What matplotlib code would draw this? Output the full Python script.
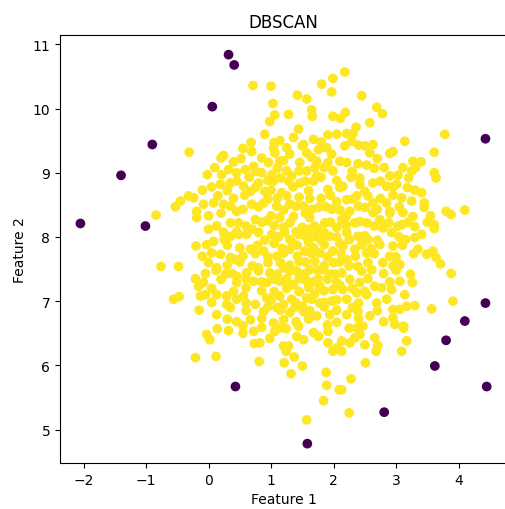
import matplotlib

matplotlib.use("Agg")
import matplotlib.pyplot as plt
import numpy as np

# Points assigned to the single cluster (label 0)
core_points = [
    (-0.31, 9.32),
    (0.71, 10.36), (1.00, 10.35), (1.81, 10.38), (1.99, 10.47), (1.97, 10.26),
    (1.42, 10.21), (1.57, 10.15), (1.03, 10.08), (1.06, 9.90), (1.28, 9.91),
    (1.65, 9.98), (1.66, 9.88), (0.98, 9.80), (1.99, 9.88), (1.44, 9.68),
    (0.90, 9.60), (1.14, 9.50), (1.36, 9.55), (1.68, 9.52), (1.91, 9.59),
    (2.05, 9.60), (0.68, 9.47), (0.55, 9.38), (0.69, 9.33), (1.04, 9.39),
    (1.06, 9.31), (1.25, 9.39), (1.30, 9.29), (1.52, 9.44), (1.57, 9.31),
    (1.76, 9.36), (1.89, 9.39), (1.97, 9.29), (0.24, 9.27), (0.20, 9.23),
    (0.52, 9.22), (0.96, 9.16), (1.14, 9.18), (1.46, 9.16), (1.73, 9.18),
    (1.91, 9.16), (0.72, 9.10), (-0.02, 8.97), (0.21, 8.97), (0.32, 9.05),
    (0.45, 9.00), (0.59, 9.05), (0.85, 9.00), (1.01, 8.97), (1.25, 9.03),
    (1.33, 8.95), (1.57, 9.03), (1.70, 9.08), (1.73, 8.95), (1.99, 9.03),
    (2.18, 10.57), (2.45, 10.20), (2.69, 10.02), (2.78, 9.92), (2.19, 9.94),
    (2.11, 9.85), (2.58, 9.78), (2.36, 9.71), (2.31, 9.61), (2.21, 9.61),
    (3.78, 9.60), (3.14, 9.49), (2.29, 9.49), (2.18, 9.42), (2.50, 9.42),
    (2.63, 9.44), (2.58, 9.31), (2.90, 9.30), (2.95, 9.33), (3.61, 9.32),
    (3.27, 9.18), (3.31, 9.08), (2.81, 9.08), (3.11, 9.08), (3.03, 8.96),
    (2.21, 9.16), (2.39, 9.14), (2.53, 9.12), (3.61, 9.00), (2.90, 8.95),
    (2.42, 8.92), (3.64, 8.92),
    (3.18, 8.77), (3.41, 8.69), (3.09, 8.61), (3.25, 8.56), (3.45, 8.53),
    (3.45, 8.46), (3.80, 8.40), (3.88, 8.35), (4.10, 8.42), (3.11, 8.38),
    (3.27, 8.32), (3.09, 8.19), (3.19, 8.23), (3.61, 8.19), (3.61, 8.13),
    (3.41, 8.04), (3.30, 7.99), (3.15, 7.96), (3.35, 7.81), (3.28, 7.74),
    (3.49, 7.73), (3.59, 7.78), (3.64, 7.68), (3.71, 7.58), (3.06, 7.57),
    (3.88, 7.43), (3.23, 7.42), (3.26, 7.29), (3.06, 7.31), (3.14, 7.10),
    (3.30, 6.93), (3.17, 6.92), (3.06, 6.87), (3.91, 7.00), (3.57, 6.88),
    (3.12, 6.61), (3.17, 6.38), (3.09, 6.22),
    (2.63, 8.53), (2.85, 8.53), (2.90, 8.40), (3.03, 8.17), (2.93, 8.07),
    (2.79, 8.14), (2.63, 8.38), (2.74, 8.27), (2.95, 7.86), (2.74, 7.88),
    (2.55, 7.96), (2.53, 7.75), (2.90, 7.70), (2.79, 7.60), (2.61, 7.49),
    (2.39, 7.54), (2.66, 7.23), (2.77, 7.21), (2.93, 7.18), (2.42, 7.29),
    (2.95, 6.87), (2.69, 6.97), (2.53, 7.10), (2.37, 7.13), (2.21, 7.03),
    (2.39, 6.84), (2.21, 6.79), (2.58, 6.77), (2.95, 6.74),
    (2.15, 8.79), (2.42, 8.82), (2.63, 8.84), (2.85, 8.79), (3.01, 8.82),
    (2.21, 8.58), (2.37, 8.64), (2.50, 8.46), (2.26, 8.40), (2.13, 8.27),
    (2.34, 8.22), (2.53, 8.22), (2.21, 8.07), (2.39, 8.01), (2.15, 7.86),
    (2.34, 7.81), (2.21, 7.65), (2.13, 7.44), (2.26, 7.34), (2.15, 7.18),
    (0.19, 8.82), (0.35, 8.84), (0.56, 8.79), (0.80, 8.84), (1.04, 8.87),
    (1.28, 8.87), (1.46, 8.84), (1.68, 8.87), (1.91, 8.74), (0.67, 8.71),
    (0.90, 8.71), (1.17, 8.69), (-0.08, 8.51), (0.08, 8.53), (0.24, 8.51),
    (0.45, 8.40), (0.69, 8.51), (0.88, 8.53), (1.09, 8.48), (1.30, 8.51),
    (1.52, 8.48), (1.76, 8.46), (1.97, 8.43), (0.48, 8.22), (0.13, 8.17),
    (0.24, 8.07), (0.75, 8.27), (0.93, 8.25), (1.14, 8.30), (1.36, 8.32),
    (1.62, 8.30), (1.86, 8.22), (-0.03, 7.88), (0.08, 7.93), (0.48, 8.04),
    (0.61, 8.04), (0.80, 8.07), (1.01, 8.04), (1.22, 8.07), (1.44, 8.04),
    (1.70, 8.01), (1.94, 8.01), (0.19, 7.73), (0.35, 7.68), (0.43, 7.65),
    (0.67, 7.81), (0.88, 7.78), (1.09, 7.70), (1.30, 7.81), (1.54, 7.78),
    (1.78, 7.75), (1.99, 7.78), (0.13, 7.52), (0.27, 7.42), (0.45, 7.39),
    (0.61, 7.44), (0.80, 7.52), (0.98, 7.44), (1.20, 7.52), (1.41, 7.47),
    (1.62, 7.49), (1.84, 7.49), (2.02, 7.42), (-0.08, 7.29), (0.72, 7.31),
    (0.93, 7.29), (1.14, 7.31), (1.36, 7.26), (1.57, 7.31), (1.78, 7.23),
    (1.99, 7.18), (-0.05, 7.10), (0.13, 7.10), (0.29, 7.08), (0.56, 7.08),
    (0.75, 6.95), (0.93, 7.05), (1.14, 7.08), (1.33, 7.03), (1.57, 7.05),
    (1.78, 6.97), (1.97, 7.00), (0.29, 6.95), (0.13, 6.79), (0.88, 6.84),
    (1.09, 6.90), (1.30, 6.82), (1.52, 6.84), (1.73, 6.77), (1.94, 6.79),
    (1.20, 6.71), (0.67, 6.71), (1.04, 6.66),
    (1.10, 8.60), (1.45, 8.62), (1.80, 8.60), (2.05, 8.55), (1.20, 8.15),
    (1.50, 8.15), (1.75, 8.12), (2.05, 8.15), (1.05, 7.90), (1.35, 7.90),
    (1.60, 7.92), (1.85, 7.88), (2.10, 7.90), (1.15, 7.60), (1.45, 7.62),
    (1.70, 7.62), (2.00, 7.60), (1.25, 7.35), (1.50, 7.40), (1.75, 7.35),
    (1.05, 7.15), (1.70, 7.12), (2.10, 7.25), (1.20, 6.95), (1.50, 6.92),
    (-0.84, 8.34), (-0.53, 8.47), (-0.45, 8.56), (-0.32, 8.64), (-0.24, 8.61),
    (-0.19, 8.40), (-0.19, 8.30), (-0.20, 7.86), (-0.76, 7.54), (-0.48, 7.54),
    (-0.21, 7.35), (-0.56, 7.03), (-0.47, 7.07), (-0.16, 7.23), (-0.13, 7.08),
    (-0.21, 6.12),
    (-0.03, 6.48), (0.02, 6.40), (0.14, 6.57), (0.32, 6.54), (0.55, 6.50),
    (0.72, 6.53), (0.85, 6.59), (0.73, 6.34), (0.82, 6.35), (0.98, 6.42),
    (1.06, 6.53), (1.24, 6.57), (1.41, 6.45), (1.52, 6.40), (1.44, 6.61),
    (1.68, 6.51), (1.76, 6.45), (1.91, 6.53), (1.91, 6.35), (1.99, 6.22),
    (2.05, 6.27), (1.20, 6.30), (1.28, 6.30), (1.24, 6.22), (0.12, 6.14),
    (0.81, 6.06), (1.21, 6.04), (1.37, 6.13), (1.50, 5.99), (1.32, 5.87),
    (1.88, 5.89), (1.89, 5.69), (2.09, 5.62), (1.84, 5.45), (1.57, 5.15),
    (2.37, 6.58), (2.47, 6.61), (2.98, 6.64), (3.12, 6.58), (2.13, 6.38),
    (2.26, 6.35), (2.34, 6.43), (2.42, 6.48), (2.50, 6.32), (2.66, 6.43),
    (2.71, 6.31), (2.68, 6.22), (2.13, 6.22), (2.51, 6.04), (2.28, 5.79),
    (2.13, 5.62), (2.25, 5.26),
    # densely packed centre of the blob
    (1.05, 9.47), (1.50, 9.42), (1.80, 9.48), (2.40, 9.43),
    (0.40, 9.17), (0.85, 9.23), (1.20, 9.19), (1.65, 9.24), (2.10, 9.18),
    (2.70, 9.22), (3.40, 9.17),
    (0.10, 9.08), (0.75, 9.02), (1.10, 9.07), (1.45, 9.03), (1.85, 9.08),
    (2.30, 9.02), (2.65, 9.07), (3.25, 9.03),
    (0.45, 8.87), (0.65, 8.93), (0.95, 8.88), (1.15, 8.92), (1.55, 8.87),
    (1.80, 8.93), (2.05, 8.88), (2.28, 8.93), (2.75, 8.87), (3.20, 8.92),
    (-0.10, 8.73), (0.05, 8.78), (0.30, 8.72), (0.75, 8.77), (1.00, 8.73),
    (1.35, 8.78), (1.60, 8.72), (2.10, 8.77), (2.50, 8.71), (2.95, 8.78),
    (3.30, 8.73),
    (0.15, 8.64), (0.40, 8.60), (0.58, 8.65), (0.95, 8.59), (1.25, 8.64),
    (1.62, 8.60), (1.95, 8.65), (2.30, 8.59), (2.55, 8.64), (2.75, 8.60),
    (2.95, 8.65),
    (0.35, 8.48), (0.55, 8.43), (0.80, 8.47), (1.20, 8.42), (1.40, 8.48),
    (1.65, 8.43), (1.88, 8.47), (2.10, 8.42), (2.40, 8.48), (2.70, 8.43),
    (3.05, 8.47),
    (0.00, 8.33), (0.20, 8.37), (1.00, 8.33), (1.55, 8.37), (2.20, 8.32),
    (2.90, 8.37), (3.55, 8.33),
    (0.35, 8.22), (0.60, 8.17), (0.85, 8.23), (1.05, 8.18), (1.30, 8.22),
    (1.70, 8.17), (1.95, 8.23), (2.20, 8.18), (2.42, 8.24), (2.65, 8.17),
    (2.88, 8.22), (3.30, 8.16), (3.50, 8.23),
    (0.00, 8.12), (0.45, 8.08), (0.70, 8.12), (1.40, 8.08), (1.60, 8.12),
    (1.85, 8.07),
    (0.25, 7.96), (0.35, 8.01), (0.90, 7.95), (1.12, 8.00), (1.30, 7.96),
    (1.55, 8.01), (1.80, 7.95), (2.05, 8.00), (2.25, 7.96), (2.50, 8.02),
    (2.70, 7.95), (3.05, 8.00),
    (0.30, 7.87), (0.50, 7.83), (0.78, 7.87), (1.18, 7.82), (1.42, 7.87),
    (1.68, 7.83), (2.45, 7.88), (2.60, 7.82), (3.10, 7.87),
    (-0.10, 7.70), (0.05, 7.75), (0.55, 7.70), (0.75, 7.74), (0.95, 7.69),
    (1.20, 7.75), (1.42, 7.70), (1.65, 7.74), (1.90, 7.69), (2.12, 7.75),
    (2.35, 7.70), (2.65, 7.74), (3.00, 7.69),
    (0.00, 7.60), (0.30, 7.56), (0.50, 7.61), (0.70, 7.55), (0.95, 7.60),
    (1.30, 7.56), (1.55, 7.61), (1.85, 7.55), (2.10, 7.61), (2.25, 7.55),
    (2.55, 7.60), (2.95, 7.55),
    (-0.05, 7.43), (0.12, 7.48), (0.38, 7.43), (0.80, 7.47), (1.10, 7.42),
    (1.30, 7.47), (1.55, 7.43), (1.75, 7.48), (1.95, 7.42), (2.45, 7.47),
    (2.80, 7.43), (3.00, 7.48),
    (0.20, 7.34), (0.45, 7.29), (0.60, 7.35), (0.85, 7.30), (1.05, 7.34),
    (1.25, 7.29), (1.45, 7.35), (1.68, 7.30), (1.90, 7.34), (2.05, 7.29),
    (2.55, 7.35), (2.90, 7.30),
    (0.05, 7.20), (0.40, 7.15), (0.60, 7.21), (0.85, 7.16), (1.25, 7.20),
    (1.45, 7.15), (1.60, 7.21), (1.85, 7.16), (2.30, 7.20), (2.50, 7.15),
    (0.05, 6.98), (0.45, 7.03), (0.60, 6.97), (1.00, 7.02), (1.40, 6.97),
    (1.65, 7.03), (1.85, 6.98), (2.05, 7.02), (2.40, 6.97), (2.85, 7.03),
    (-0.15, 6.86), (0.35, 6.90), (0.60, 6.85), (0.95, 6.91), (1.15, 6.86),
    (1.38, 6.90), (1.62, 6.85), (1.85, 6.91), (2.05, 6.86), (2.30, 6.90),
    (2.70, 6.85),
    (0.30, 6.72), (0.45, 6.68), (0.85, 6.73), (1.40, 6.68), (1.60, 6.72),
    (2.05, 6.67), (2.40, 6.73), (2.80, 6.68),
    (0.55, 6.62), (1.15, 6.58), (1.90, 6.63), (2.25, 6.58),
]

# Points left unassigned (label -1)
noise_points = [
    (0.32, 10.84), (0.41, 10.68), (0.06, 10.03), (-0.90, 9.44), (-1.40, 8.96),
    (-2.05, 8.21), (-1.01, 8.17), (4.43, 9.53), (4.43, 6.97), (4.10, 6.69),
    (3.80, 6.39), (3.62, 5.99), (4.45, 5.67), (0.43, 5.67), (2.81, 5.27),
    (1.58, 4.78),
]


def main() -> None:
    X = np.array(core_points + noise_points)
    labels = np.array([0] * len(core_points) + [-1] * len(noise_points))

    fig = plt.figure(figsize=(5.05, 5.1), dpi=100)
    fig.subplots_adjust(left=0.119, right=1.004, bottom=0.090, top=0.929)
    ax = fig.add_subplot(111)
    ax.scatter(X[:, 0], X[:, 1], c=labels, cmap="viridis")
    ax.set_title("DBSCAN")
    ax.set_xlabel("Feature 1")
    ax.set_ylabel("Feature 2")
    fig.savefig("out.png", dpi=100)
    plt.close(fig)


if __name__ == "__main__":
    main()
